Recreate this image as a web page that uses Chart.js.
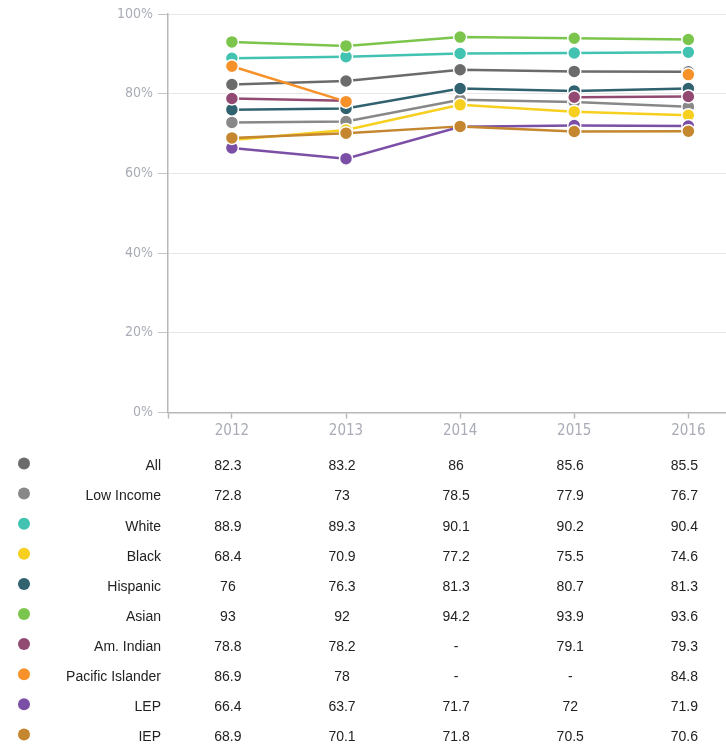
<!DOCTYPE html>
<html>
<head>
<meta charset="utf-8">
<script src="https://cdn.jsdelivr.net/npm/chart.js@4.4.0/dist/chart.umd.min.js"></script>
<style>
  html, body { margin: 0; padding: 0; background: #fff; }
  #wrap { position: relative; width: 726px; height: 748px; }
</style>
</head>
<body>
<div id="wrap"><canvas id="gradRate"></canvas></div>
<script>
// graduation rates by student group, 2012-2016 (null = no data)
const years = [2012, 2013, 2014, 2015, 2016];
const yTicks = [0, 20, 40, 60, 80, 100];

const allStudents   = [82.3, 83.2, 86, 85.6, 85.5];
const lowIncome     = [72.8, 73, 78.5, 77.9, 76.7];
const white         = [88.9, 89.3, 90.1, 90.2, 90.4];
const black         = [68.4, 70.9, 77.2, 75.5, 74.6];
const hispanic      = [76, 76.3, 81.3, 80.7, 81.3];
const asian         = [93, 92, 94.2, 93.9, 93.6];
const amIndian      = [78.8, 78.2, null, 79.1, 79.3];
const pacIslander   = [86.9, 78, null, null, 84.8];
const lep           = [66.4, 63.7, 71.7, 72, 71.9];
const iep           = [68.9, 70.1, 71.8, 70.5, 70.6];

const groupNames = ['All', 'Low Income', 'White', 'Black', 'Hispanic', 'Asian',
                    'Am. Indian', 'Pacific Islander', 'LEP', 'IEP'];
const groupValues = [allStudents, lowIncome, white, black, hispanic, asian,
                     amIndian, pacIslander, lep, iep];
const groupColors = ['#6b6b6b', '#888888', '#42c2b0', '#f7cf1f', '#30626f', '#7cc54c',
                     '#934a72', '#f7922b', '#7c4fa6', '#c4862f'];

const tickFont = '"Liberation Sans Narrow", "DejaVu Sans Condensed", "Liberation Sans", sans-serif';

const datasets = groupNames.map((name, i) => ({
  label: name,
  data: groupValues[i].map((v, j) => ({ x: years[j], y: v })),
  borderColor: groupColors[i],
  backgroundColor: groupColors[i],
  pointBackgroundColor: groupColors[i],
  pointBorderColor: '#ffffff',
  pointBorderWidth: 1.5,
  pointRadius: 6.5,
  borderWidth: 2.5,
  tension: 0,
  spanGaps: false,
  clip: false,
  order: -i   // later groups sit on top
}));

// table of values under the chart, columns lined up with the x axis
const valueTable = {
  id: 'valueTable',
  afterDraw(chart) {
    const ctx = chart.ctx;
    const xs = chart.scales.x;
    const top = chart.chartArea.bottom + 51;
    ctx.save();
    ctx.font = '14px "Liberation Sans", Arial, sans-serif';
    ctx.textBaseline = 'middle';
    groupNames.forEach((name, i) => {
      const y = top + i * 30.1;
      ctx.fillStyle = groupColors[i];
      ctx.beginPath();
      ctx.arc(24, y, 6, 0, Math.PI * 2);
      ctx.fill();
      ctx.fillStyle = '#222';
      ctx.textAlign = 'right';
      ctx.fillText(name, 161, y + 3);
      ctx.textAlign = 'center';
      groupValues[i].forEach((v, j) => {
        const px = xs.getPixelForValue(years[j]) - 4;
        ctx.fillText(v === null ? '-' : String(v), px, y + 3);
      });
    });
    ctx.restore();
  }
};

const ctx = document.getElementById('gradRate').getContext('2d');
new Chart(ctx, {
  type: 'line',
  data: { datasets },
  plugins: [valueTable],
  options: {
    responsive: true,
    maintainAspectRatio: false,
    animation: false,
    layout: { autoPadding: false, padding: { top: 14, right: 0, bottom: 305.5, left: 0 } },
    plugins: { legend: { display: false }, tooltip: { enabled: false } },
    scales: {
      x: {
        type: 'linear',
        min: 2011.44,
        max: 2016.33,
        afterBuildTicks: axis => {
          axis.ticks = [axis.min].concat(years).map(v => ({ value: v }));
        },
        afterFit: axis => {
          axis.height = 30;
          axis.paddingLeft = 0;
          axis.paddingRight = 0;
        },
        grid: { drawOnChartArea: false, drawTicks: true, tickLength: 6, tickColor: '#b8b8b8', tickWidth: 1.5 },
        border: { color: '#b8b8b8', width: 1.5 },
        ticks: {
          color: '#a9acb6',
          padding: 4,
          font: { family: tickFont, size: 15 },
          maxRotation: 0,
          autoSkip: false,
          callback: v => (Number.isInteger(v) ? String(v) : '')
        }
      },
      y: {
        min: 0,
        max: 100,
        afterBuildTicks: axis => { axis.ticks = yTicks.map(v => ({ value: v })); },
        afterFit: axis => { axis.width = 168; },
        grid: { color: '#e6e6e6', lineWidth: 1, drawTicks: true, tickLength: 10, tickColor: '#c4c4c4' },
        border: { color: '#b8b8b8', width: 1.5 },
        ticks: {
          color: '#a9acb6',
          padding: 5,
          font: { family: tickFont, size: 14 },
          callback: v => v + '%'
        }
      }
    }
  }
});
</script>
</body>
</html>
